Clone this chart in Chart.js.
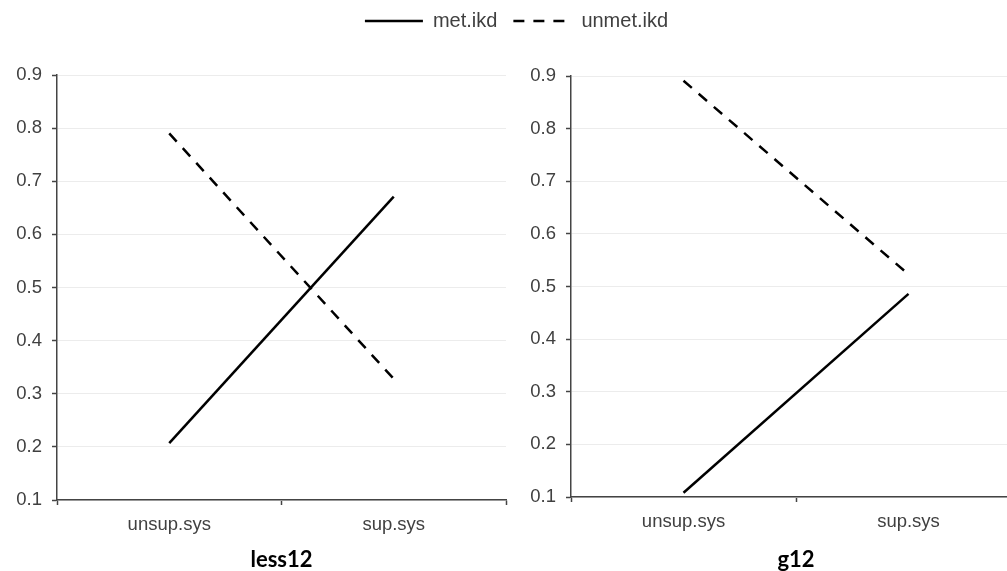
<!DOCTYPE html>
<html>
<head>
<meta charset="utf-8">
<script src="https://cdn.jsdelivr.net/npm/chart.js@4"></script>
<style>
  html, body { margin: 0; padding: 0; background: #fff; }
  #page { position: relative; width: 1007px; height: 571px; overflow: hidden; background: #fff; }
  .box { position: absolute; }
  #legendBox { left: 13px; top: -5px; width: 1007px; height: 160px; z-index: 2; pointer-events: none; }
  #leftBox { left: 0; top: 0; width: 510px; height: 571px; }
  #rightBox { left: 514px; top: 0; width: 511px; height: 571px; }
</style>
</head>
<body>
<div id="page">
  <div class="box" id="leftBox"><canvas id="leftChart"></canvas></div>
  <div class="box" id="rightBox"><canvas id="rightChart"></canvas></div>
  <div class="box" id="legendBox"><canvas id="legendChart"></canvas></div>
</div>
<script>
const categories = ['unsup.sys', 'sup.sys'];
const seriesNames = ['met.ikd', 'unmet.ikd'];
const less12Met = [0.207, 0.671];
const less12Unmet = [0.790, 0.328];
const g12Met = [0.108, 0.486];
const g12Unmet = [0.891, 0.523];
const panelTitles = ['less12', 'g12'];
const yMin = 0.1;
const yMax = 0.9;
const yStep = 0.1;

const tickFont = { family: 'Liberation Sans', size: 18.5 };
const textColor = '#404040';
const axisColor = '#444444';
const lineDash = [11, 9];

function lineSets(met, unmet) {
  return [
    {
      label: seriesNames[0],
      data: met,
      borderColor: '#000',
      backgroundColor: '#000',
      borderWidth: 2.5,
      pointRadius: 0,
      fill: false,
    },
    {
      label: seriesNames[1],
      data: unmet,
      borderColor: '#000',
      backgroundColor: '#000',
      borderWidth: 2.5,
      borderDash: lineDash,
      pointRadius: 0,
      fill: false,
    },
  ];
}

function panelConfig(met, unmet, title, top, xHeight) {
  return {
    type: 'line',
    data: { labels: categories, datasets: lineSets(met, unmet) },
    options: {
      responsive: true,
      maintainAspectRatio: false,
      animation: false,
      layout: { padding: { top: top, right: 4, left: 0, bottom: 0 } },
      plugins: { legend: { display: false }, tooltip: { enabled: false } },
      scales: {
        x: {
          offset: true,
          grid: {
            offset: true,
            drawOnChartArea: false,
            tickLength: 5,
            tickColor: axisColor,
            tickWidth: 1.5,
          },
          border: { color: axisColor, width: 1.5 },
          ticks: { font: tickFont, color: textColor, padding: 9, maxRotation: 0 },
          title: {
            display: true,
            text: title,
            color: '#000',
            font: { family: 'Lato', size: 22, weight: 'bold', lineHeight: 1.0 },
            padding: { top: 0, bottom: 0 },
          },
          afterFit: (scale) => { scale.height = xHeight; },
        },
        y: {
          min: yMin,
          max: yMax,
          grid: { color: '#ececec', lineWidth: 1, tickLength: 5, tickColor: axisColor, tickWidth: 1.5 },
          border: { color: axisColor, width: 1.5 },
          ticks: {
            stepSize: yStep,
            font: tickFont,
            color: textColor,
            padding: 10,
            callback: (v) => Number(v).toFixed(1),
          },
          afterFit: (scale) => { scale.width = 57; },
        },
      },
    },
  };
}

new Chart(document.getElementById('leftChart'),
  panelConfig(less12Met, less12Unmet, panelTitles[0], 75, 71));
new Chart(document.getElementById('rightChart'),
  panelConfig(g12Met, g12Unmet, panelTitles[1], 76, 74));

// shared legend across both panels
new Chart(document.getElementById('legendChart'), {
  type: 'line',
  data: { labels: ['a'], datasets: lineSets([null], [null]) },
  options: {
    responsive: true,
    maintainAspectRatio: false,
    animation: false,
    layout: { padding: 0 },
    scales: { x: { display: false }, y: { display: false } },
    plugins: {
      tooltip: { enabled: false },
      legend: {
        display: true,
        position: 'top',
        align: 'center',
        labels: {
          usePointStyle: true,
          pointStyle: 'line',
          pointStyleWidth: 58,
          padding: 16,
          color: textColor,
          font: { family: 'Liberation Sans', size: 20 },
          generateLabels: (chart) => {
            const items = Chart.defaults.plugins.legend.labels.generateLabels(chart);
            return items.map((item) => {
              const ds = chart.data.datasets[item.datasetIndex];
              return { ...item, lineDash: ds.borderDash || [], lineWidth: ds.borderWidth, strokeStyle: '#000' };
            });
          },
        },
      },
    },
  },
});
</script>
</body>
</html>
